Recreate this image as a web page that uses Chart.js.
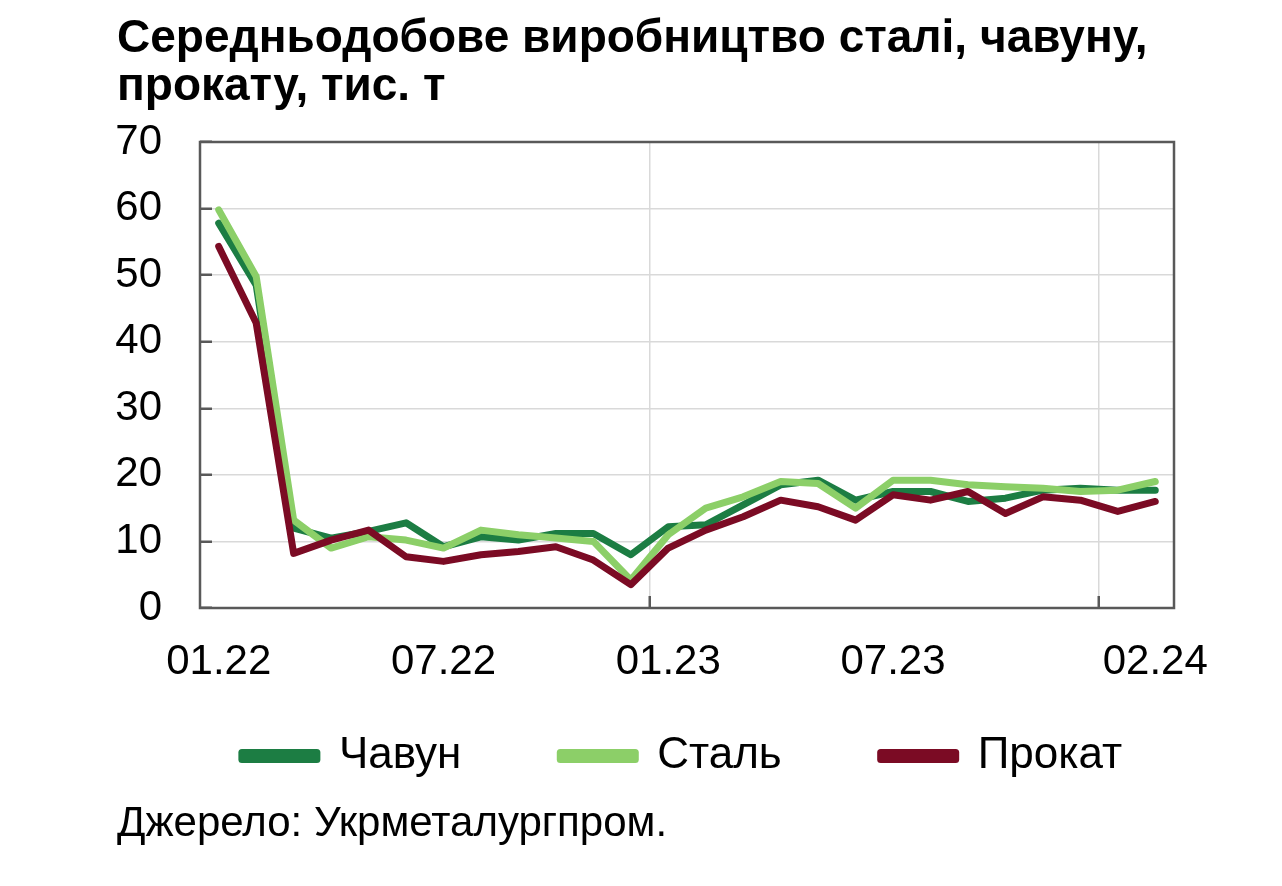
<!DOCTYPE html>
<html lang="uk">
<head>
<meta charset="utf-8">
<script src="https://cdn.jsdelivr.net/npm/chart.js@4.4.1/dist/chart.umd.min.js"></script>
<style>
  html, body { margin: 0; padding: 0; background: #fff; }
  body { width: 1282px; height: 886px; position: relative; overflow: hidden; font-family: 'Liberation Sans', Arial, sans-serif; color: #000; }
  #title { position: absolute; left: 117px; top: 12px; font-size: 46px; font-weight: bold; line-height: 48px; }
  #source { position: absolute; left: 117px; top: 798px; font-size: 42px; line-height: 48px; }
  #chart { position: absolute; left: 0; top: 0; }
</style>
</head>
<body>
<canvas id="chart" width="1282" height="886"></canvas>
<div id="title">Середньодобове виробництво сталі, чавуну,<br>прокату, тис. т</div>
<div id="source">Джерело: Укрметалургпром.</div>
<script>
// months 01.22 .. 02.24
const months = [
    '01.22', '02.22', '03.22', '04.22', '05.22', '06.22', '07.22', '08.22', '09.22', '10.22', '11.22', '12.22',
    '01.23', '02.23', '03.23', '04.23', '05.23', '06.23', '07.23', '08.23', '09.23', '10.23', '11.23', '12.23',
    '01.24', '02.24'
];
const shownTicks = ['01.22', '07.22', '01.23', '07.23', '02.24'];

const pigIron = [57.8, 48.5, 12.0, 10.5, 11.5, 12.8, 9.2, 10.7, 10.2, 11.2, 11.2, 8.0, 12.2,
    12.5, 15.5, 18.5, 19.2, 16.2, 17.5, 17.5, 16.0, 16.5, 17.7, 18.0, 17.7, 17.7];
const steel = [59.8, 49.8, 13.2, 9.0, 10.7, 10.2, 9.0, 11.7, 11.0, 10.5, 10.0, 4.2, 11.0,
    15.0, 16.7, 19.0, 18.7, 15.0, 19.2, 19.2, 18.5, 18.2, 18.0, 17.5, 17.7, 19.0];
const rolled = [54.3, 42.8, 8.2, 10.2, 11.7, 7.7, 7.0, 8.0, 8.5, 9.2, 7.2, 3.5, 9.0,
    11.7, 13.7, 16.2, 15.2, 13.2, 17.0, 16.2, 17.5, 14.2, 16.7, 16.2, 14.5, 16.0];

const font = 'Liberation Sans, Arial, sans-serif';
const frameColor = '#595959';
const gridColor = '#d9d9d9';
const clear = 'rgba(0,0,0,0)';

// box around the plot area
const framePlugin = {
    id: 'frame',
    beforeDatasetsDraw(chart) {
        const { ctx, chartArea: a } = chart;
        ctx.save();
        ctx.strokeStyle = frameColor;
        ctx.lineWidth = 2.5;
        ctx.strokeRect(a.left, a.top, a.right - a.left, a.bottom - a.top);
        ctx.restore();
    }
};

function line(label, data, color, order) {
    return {
        label: label,
        data: data,
        borderColor: color,
        backgroundColor: color,
        borderWidth: 7,
        borderJoinStyle: 'round',
        borderCapStyle: 'round',
        pointRadius: 0,
        tension: 0,
        order: order
    };
}

new Chart(document.getElementById('chart'), {
    type: 'line',
    data: {
        labels: months,
        datasets: [
            line('Чавун', pigIron, '#1c7d43', 2),
            line('Сталь', steel, '#8ccf68', 1),
            line('Прокат', rolled, '#7b0b24', 0)
        ]
    },
    options: {
        responsive: false,
        animation: false,
        devicePixelRatio: 1,
        layout: { padding: { top: 142, left: 82, right: 0, bottom: 98 } },
        plugins: {
            title: { display: false },
            tooltip: { enabled: false },
            legend: {
                position: 'bottom',
                labels: {
                    font: { family: font, size: 44 },
                    color: '#000',
                    boxWidth: 75,
                    boxHeight: 7,
                    padding: 50,
                    generateLabels: chart => {
                        const items = Chart.defaults.plugins.legend.labels.generateLabels(chart)
                            .sort((a, b) => a.datasetIndex - b.datasetIndex);
                        // wider gaps between items, as in the source
                        items.forEach((it, i) => { if (i < items.length - 1) it.text += '    '; });
                        return items;
                    }
                }
            }
        },
        scales: {
            x: {
                offset: true,
                afterFit: s => { s.height = 76; },
                border: { display: false },
                grid: {
                    offset: true,
                    lineWidth: 1.5,
                    tickLength: -12,
                    tickWidth: 2.5,
                    color: c => (c.index === 12 || c.index === 24) ? gridColor : clear,
                    tickColor: c => (c.index === 12 || c.index === 24) ? frameColor : clear
                },
                ticks: {
                    autoSkip: false,
                    maxRotation: 0,
                    padding: 41,
                    color: '#000',
                    font: { family: font, size: 42 },
                    callback: function (value) {
                        const lab = this.getLabelForValue(value);
                        return shownTicks.includes(lab) ? lab : '';
                    }
                }
            },
            y: {
                min: 0,
                max: 70,
                afterFit: s => { s.width = 118; },
                border: { display: false },
                grid: {
                    lineWidth: 1.5,
                    tickLength: -12,
                    tickWidth: 2.5,
                    color: c => (c.tick && c.tick.value > 0 && c.tick.value < 70) ? gridColor : clear,
                    tickColor: frameColor
                },
                ticks: {
                    stepSize: 10,
                    padding: 50,
                    color: '#000',
                    font: { family: font, size: 42 }
                }
            },
            y2: {
                position: 'right',
                min: 0,
                max: 70,
                afterFit: s => { s.width = 108; },
                border: { display: false },
                grid: { display: false },
                ticks: { display: false }
            }
        }
    },
    plugins: [framePlugin]
});
</script>
</body>
</html>
